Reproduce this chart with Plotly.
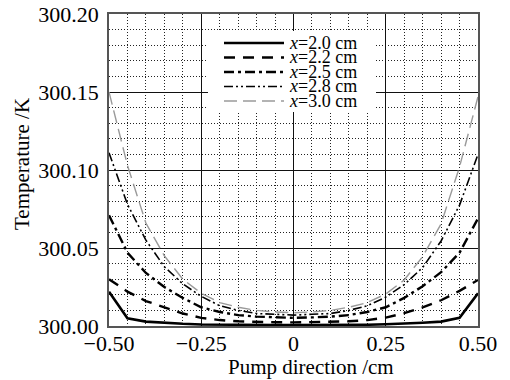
import plotly.graph_objects as go

# ---- data ----
pump_pos = [-0.50, -0.45, -0.40, -0.35, -0.30, -0.25, -0.20, -0.15, -0.10, -0.05, 0.00,
            0.05, 0.10, 0.15, 0.20, 0.25, 0.30, 0.35, 0.40, 0.45, 0.50]

T_x20 = [300.0220, 300.0050, 300.0028, 300.0020, 300.0014, 300.0010, 300.0008, 300.0007, 300.0006, 300.0006, 300.0006,
         300.0006, 300.0006, 300.0007, 300.0008, 300.0011, 300.0015, 300.0021, 300.0028, 300.0052, 300.0210]
T_x22 = [300.0300, 300.0220, 300.0160, 300.0118, 300.0080, 300.0052, 300.0038, 300.0030, 300.0026, 300.0024, 300.0023,
         300.0024, 300.0026, 300.0030, 300.0038, 300.0054, 300.0082, 300.0120, 300.0165, 300.0225, 300.0295]
T_x25 = [300.0710, 300.0470, 300.0340, 300.0250, 300.0180, 300.0120, 300.0090, 300.0070, 300.0060, 300.0055, 300.0052,
         300.0055, 300.0060, 300.0070, 300.0090, 300.0120, 300.0180, 300.0255, 300.0345, 300.0470, 300.0690]
T_x28 = [300.1110, 300.0780, 300.0550, 300.0380, 300.0270, 300.0190, 300.0130, 300.0100, 300.0080, 300.0075, 300.0070,
         300.0075, 300.0080, 300.0100, 300.0130, 300.0185, 300.0265, 300.0375, 300.0545, 300.0775, 300.1100]
T_x30 = [300.1500, 300.1030, 300.0660, 300.0450, 300.0300, 300.0210, 300.0150, 300.0120, 300.0100, 300.0090, 300.0085,
         300.0090, 300.0100, 300.0120, 300.0150, 300.0205, 300.0295, 300.0445, 300.0655, 300.1020, 300.1470]

series_labels = ["<i>x</i>=2.0 cm", "<i>x</i>=2.2 cm", "<i>x</i>=2.5 cm", "<i>x</i>=2.8 cm", "<i>x</i>=3.0 cm"]
x_tick_vals = [-0.50, -0.25, 0.0, 0.25, 0.50]
x_tick_text = ["\u22120.50", "\u22120.25", "0", "0.25", "0.50"]
x_title = "Pump direction /cm"
y_title = "Temperature /K"

# ---- styles ----
styles = [
    dict(color="black", width=2.6, dash="solid"),
    dict(color="black", width=2.4, dash="11px,8px"),
    dict(color="black", width=2.4, dash="10px,4px,3px,4px"),
    dict(color="black", width=1.6, dash="9px,3px,2px,3px,2px,3px"),
    dict(color="#9a9a9a", width=1.4, dash="13px,6px"),
]

FONT = "Liberation Serif"
W, H = 510, 380
L, R, T, B = 109, 32, 14, 54
PW, PH = W - L - R, H - T - B

def px2paper_x(px):
    return (px - L) / PW

def px2paper_y(py):
    return (H - B - py) / PH

fig = go.Figure()
for ys, st, name in zip([T_x20, T_x22, T_x25, T_x28, T_x30], styles, series_labels):
    fig.add_trace(go.Scatter(x=pump_pos, y=ys, mode="lines", name=name,
                             line=st, showlegend=False))

# custom legend box (wide line samples like the original)
fig.add_shape(type="rect", xref="paper", yref="paper",
              x0=px2paper_x(208), x1=px2paper_x(376),
              y0=px2paper_y(112), y1=px2paper_y(31),
              fillcolor="white", line=dict(width=0), layer="above")
rows = [43, 57.5, 72, 86.5, 101]
for py, st, name in zip(rows, styles, series_labels):
    fig.add_shape(type="line", xref="paper", yref="paper",
                  x0=px2paper_x(224), x1=px2paper_x(284),
                  y0=px2paper_y(py), y1=px2paper_y(py),
                  line=st, layer="above")
    fig.add_annotation(xref="paper", yref="paper", x=px2paper_x(287), y=px2paper_y(py),
                       text=name, showarrow=False, xanchor="left", yanchor="middle",
                       font=dict(family=FONT, size=18, color="black"))

# axis titles
fig.add_annotation(xref="paper", yref="paper", x=px2paper_x(311), y=px2paper_y(367),
                   text=x_title, showarrow=False, xanchor="center", yanchor="middle",
                   font=dict(family=FONT, size=21, color="black"))
fig.add_annotation(xref="paper", yref="paper", x=px2paper_x(22), y=px2paper_y(164),
                   text=y_title, showarrow=False, xanchor="center", yanchor="middle",
                   textangle=-90, font=dict(family=FONT, size=21, color="black"))

axis_common = dict(
    showline=True, mirror=True, linecolor="#555", linewidth=1.5,
    showgrid=True, gridcolor="#111", gridwidth=1.3,
    zeroline=False, ticks="", color="black", automargin=False,
    tickfont=dict(family=FONT, size=22, color="black"),
)

fig.update_xaxes(
    range=[-0.5, 0.5], tickmode="array", tickvals=x_tick_vals, ticktext=x_tick_text,
    minor=dict(tickmode="linear", tick0=-0.5, dtick=0.05, showgrid=True,
               griddash="1px,2px", gridcolor="#222", gridwidth=1, ticks=""),
    ticklabelstandoff=-3,
    **axis_common,
)
fig.update_yaxes(
    range=[300.0, 300.2], tickmode="linear", tick0=300.0, dtick=0.05, tickformat=".2f",
    minor=dict(tickmode="linear", tick0=300.0, dtick=0.01, showgrid=True,
               griddash="1px,2px", gridcolor="#222", gridwidth=1, ticks=""),
    ticklabelstandoff=4,
    **axis_common,
)

fig.update_layout(
    width=W, height=H,
    margin=dict(l=L, r=R, t=T, b=B, autoexpand=False),
    paper_bgcolor="white", plot_bgcolor="white",
    font=dict(family=FONT, size=21, color="black"),
    showlegend=False,
)

fig.write_html("out.html")
